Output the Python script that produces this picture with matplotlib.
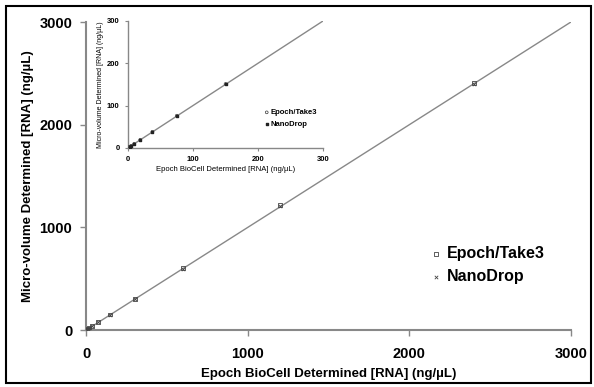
import matplotlib.pyplot as plt
from matplotlib.patches import Rectangle

plt.rcParams['font.family'] = ['Liberation Sans', 'DejaVu Sans']

# dilution series, Epoch BioCell values (ng/uL)
epoch_x = [2400, 1200, 600, 300, 150, 75, 37.5, 18.75, 9.4, 4.7, 2.3]
take3_y = [2410, 1215, 605, 302, 152, 76, 38, 19, 9.5, 4.8, 2.4]
nanodrop_y = [2395, 1205, 598, 300, 150, 75, 37, 19.5, 9.2, 4.6, 2.2]

# inset: low concentration range
inset_x = [150, 75, 37.5, 18.75, 9.4, 4.7, 2.3]
inset_take3 = [151, 76, 38, 19, 9.5, 4.8, 2.4]
inset_nano = [150, 75, 37, 19.5, 9.2, 4.6, 2.2]

main_ticks = [0, 1000, 2000, 3000]
inset_ticks = [0, 100, 200, 300]

fig = plt.figure(figsize=(5.94, 3.87), dpi=100)

# outer frame
fig.patches.append(Rectangle((0.01, 0.01), 0.985, 0.975, transform=fig.transFigure,
                             fill=False, edgecolor='black', linewidth=1.5))

ax = fig.add_axes([0.145, 0.147, 0.816, 0.796])
ax.plot([0, 3000], [0, 3000], color='#888888', linewidth=1, zorder=1)
ax.scatter(epoch_x, take3_y, marker='s', s=8, facecolors='none', edgecolors='#444444',
           linewidths=0.6, label='Epoch/Take3', zorder=3)
ax.scatter(epoch_x, nanodrop_y, marker='x', s=6, color='#444444', linewidths=0.6,
           label='NanoDrop', zorder=3)
ax.set_xlim(0, 3000)
ax.set_ylim(0, 3000)
ax.set_xticks(main_ticks)
ax.set_yticks(main_ticks)
for s in ['top', 'right']:
    ax.spines[s].set_visible(False)
for s in ['left', 'bottom']:
    ax.spines[s].set_color('#888888')
    ax.spines[s].set_linewidth(1.5)
ax.tick_params(axis='x', color='#888888', length=4, width=1, direction='out',
               labelsize=10.5, pad=8)
ax.tick_params(axis='y', color='#888888', length=4, width=1, direction='out',
               labelsize=10.5, pad=6)
for lab in ax.get_xticklabels() + ax.get_yticklabels():
    lab.set_fontweight('bold')
ax.set_xlabel('Epoch BioCell Determined [RNA] (ng/\u00b5L)', fontsize=9.5,
              fontweight='bold', labelpad=5)
ax.set_ylabel('Micro-volume Determined [RNA] (ng/\u00b5L)', fontsize=9.5,
              fontweight='bold', labelpad=4)
ax.legend(loc='upper left', bbox_to_anchor=(0.675, 0.32), frameon=False,
          prop={'size': 11.5, 'weight': 'bold'}, handletextpad=0.2,
          handlelength=1.0, markerscale=1.0, labelspacing=0.5)

# inset
ins = fig.add_axes([0.2155, 0.618, 0.3285, 0.328])
ins.plot([0, 300], [0, 300], color='#888888', linewidth=1, zorder=1)
ins.scatter(inset_x, inset_take3, marker='o', s=4, facecolors='none', edgecolors='#333333',
            linewidths=0.5, label='Epoch/Take3', zorder=3)
ins.scatter(inset_x, inset_nano, marker='s', s=3, color='#222222', label='NanoDrop', zorder=3)
ins.set_xlim(0, 300)
ins.set_ylim(0, 300)
ins.set_xticks(inset_ticks)
ins.set_yticks(inset_ticks)
for s in ['top', 'right']:
    ins.spines[s].set_visible(False)
for s in ['left', 'bottom']:
    ins.spines[s].set_color('#888888')
    ins.spines[s].set_linewidth(1)
ins.tick_params(axis='both', color='#888888', length=2, width=0.8, labelsize=5.5, pad=4)
for lab in ins.get_xticklabels() + ins.get_yticklabels():
    lab.set_fontweight('bold')
ins.set_xlabel('Epoch BioCell Determined [RNA] (ng/\u00b5L)', fontsize=5.5, labelpad=2)
ins.set_ylabel('Micro-volume Determined [RNA] (ng/\u00b5L)', fontsize=5, labelpad=2)
ins.legend(loc='upper left', bbox_to_anchor=(0.66, 0.36), frameon=False,
           prop={'size': 5.5, 'weight': 'bold'}, handletextpad=0.1, handlelength=0.8,
           labelspacing=0.6)

fig.savefig('out.png', dpi=100)
